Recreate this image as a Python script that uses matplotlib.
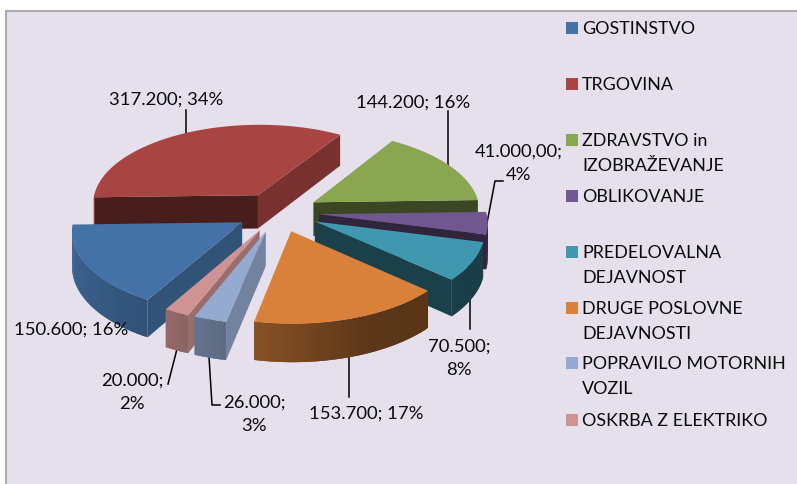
import matplotlib
matplotlib.use("Agg")
import matplotlib.pyplot as plt
from matplotlib.patches import Polygon, Rectangle
from matplotlib.colors import to_rgb
import numpy as np

plt.rcParams['font.family'] = ['Lato', 'DejaVu Sans']

categories = ["GOSTINSTVO", "TRGOVINA", "ZDRAVSTVO in\nIZOBRAŽEVANJE", "OBLIKOVANJE",
              "PREDELOVALNA\nDEJAVNOST", "DRUGE POSLOVNE\nDEJAVNOSTI",
              "POPRAVILO MOTORNIH\nVOZIL", "OSKRBA Z ELEKTRIKO"]
values = [150.6, 317.2, 144.2, 41.0, 70.5, 153.7, 26.0, 20.0]
value_labels = ["150.600; 16%", "317.200; 34%", "144.200; 16%", "41.000,00;\n4%",
                "70.500;\n8%", "153.700; 17%", "26.000;\n3%", "20.000;\n2%"]
colors = ["#4472A6", "#A84542", "#8AA650", "#71578F", "#3F98B0", "#D9813B", "#95AAD1", "#CF9393"]

# pie geometry, in pixels
cx, cy = 278, 213
R = 167
squash = 0.479
persp = 0.094
depth = 34
explode = 0.247
first_angle = 209.7

label_pos = [(71, 330), (166, 100), (413, 103), (519, 163), (459, 358), (366, 414), (254, 414), (132, 392)]
leaders = [None,
           [(186, 111), (186, 135)],
           [(448, 112), (448, 167)],
           [(503, 182), (495, 182), (487, 224)],
           [(470, 298), (470, 330)],
           [(349, 357), (349, 398)],
           [(209, 358), (212, 406), (220, 406)],
           [(177, 350), (168, 385)]]
legend_y = [29, 85, 141, 197, 253, 309, 364, 421]


def proj(u, v, z=0):
    s = 1 / (1 + persp * v)
    return cx + u * R * s, cy - v * squash * R * s + z * depth * s


def shade(col, f):
    return tuple(c * f for c in to_rgb(col))


def rim_shade(a):
    return np.interp(a % 360, [90, 155, 193, 210, 270], [0.40, 0.42, 0.63, 0.72, 0.92])


def rim_point(ox, oy, a):
    return ox + np.sin(np.radians(a)), oy + np.cos(np.radians(a))


def cut_face(ax, ox, oy, a, nx, col, z):
    px, py = rim_point(ox, oy, a)
    pts = [proj(ox, oy), proj(px, py), proj(px, py, 1), proj(ox, oy, 1)]
    ax.add_patch(Polygon(pts, fc=shade(col, 0.42 + 0.35 * max(nx, 0)), ec='none', zorder=z))


fig = plt.figure(figsize=(7.97, 4.85), dpi=100, facecolor='white')
ax = fig.add_axes([0, 0, 1, 1])
ax.set_xlim(0, 797)
ax.set_ylim(485, 0)
ax.axis('off')

ax.add_patch(Rectangle((6, 12), 800, 490, fc='#E6E0EC', ec='#A3A3A3', lw=1.3, zorder=0))

spans = np.array(values) / sum(values) * 360
starts = first_angle + np.concatenate([[0], np.cumsum(spans)[:-1]])

# back slices first, the front ones paint over them
order = [1, 2, 3, 4, 5, 0, 7, 6]
for n, i in enumerate(order):
    a0, a1 = starts[i], starts[i] + spans[i]
    mid = np.radians((a0 + a1) / 2)
    ox, oy = explode * np.sin(mid), explode * np.cos(mid)
    z = 2 + n
    col = colors[i]

    r0, r1 = np.radians(a0), np.radians(a1)
    if np.sin(r0) < 0:
        cut_face(ax, ox, oy, a0, -np.cos(r0), col, z)
    if np.sin(r1) > 0:
        cut_face(ax, ox, oy, a1, np.cos(r1), col, z)

    arc = np.linspace(a0, a1, max(int(spans[i]), 8))
    step = arc[1] - arc[0]
    for b0 in arc[:-1]:
        if np.cos(np.radians(b0 + step / 2)) > 0:
            continue
        # each quad overlaps the next one so no seams show
        b1 = min(b0 + 2 * step, a1)
        p0, p1 = rim_point(ox, oy, b0), rim_point(ox, oy, b1)
        quad = [proj(*p0), proj(*p1), proj(*p1, 1), proj(*p0, 1)]
        ax.add_patch(Polygon(quad, fc=shade(col, rim_shade(b0 + step / 2)), ec='none', zorder=z))

    top = [proj(ox, oy)] + [proj(*rim_point(ox, oy, b)) for b in arc]
    ax.add_patch(Polygon(top, fc=col, ec='none', zorder=z + 0.5))

for i, txt in enumerate(value_labels):
    ax.text(label_pos[i][0], label_pos[i][1], txt, ha='center', va='center', fontsize=13.3,
            color='#0A0A0A', linespacing=1.55, zorder=30)
    if leaders[i]:
        xs, ys = zip(*leaders[i])
        ax.plot(xs, ys, color='black', lw=1.1, zorder=1.5)

for i, txt in enumerate(categories):
    ax.add_patch(Rectangle((566, legend_y[i] - 6.5), 12, 12, fc=colors[i], ec='none', zorder=30))
    ax.text(582, legend_y[i] - 8, txt, ha='left', va='top', fontsize=12.9, color='#0A0A0A',
            linespacing=1.72, zorder=30)

fig.savefig('out.png', dpi=100)
